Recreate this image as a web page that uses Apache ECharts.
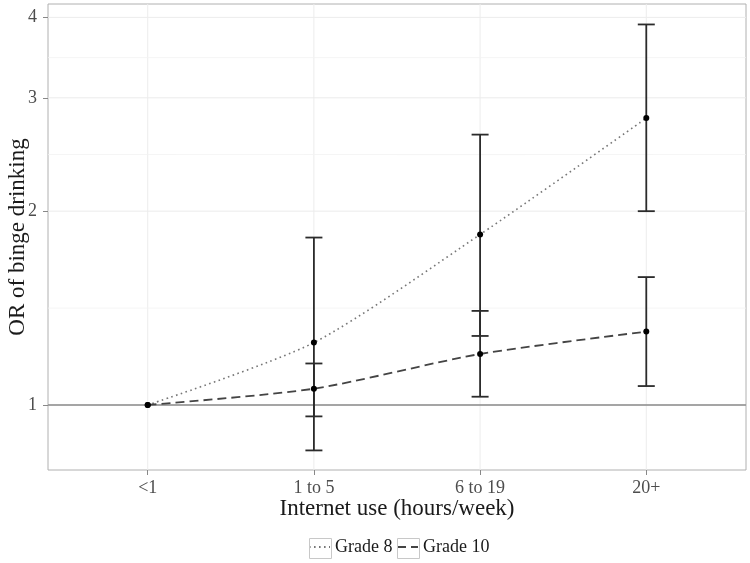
<!DOCTYPE html>
<html>
<head>
<meta charset="utf-8">
<script src="https://cdn.jsdelivr.net/npm/echarts@6/dist/echarts.min.js"></script>
<style>html,body{margin:0;padding:0;background:#fff;}#chart{width:750px;height:563px;}</style>
</head>
<body>
<div id="chart"></div>
<script>
// ---- data ----
var categories = ['<1', '1 to 5', '6 to 19', '20+'];
var grade8OR = [1, 1.25, 1.84, 2.79];
var grade8Lower = [null, 0.85, 1.28, 2.00];
var grade8Upper = [null, 1.82, 2.63, 3.90];
var grade10OR = [1, 1.06, 1.20, 1.30];
var grade10Lower = [null, 0.96, 1.03, 1.07];
var grade10Upper = [null, 1.16, 1.40, 1.58];
var yBreaks = [1, 2, 3, 4];
var yMinorBreaks = [1.414, 2.449, 3.464];
var referenceOR = [1];

var FONT = 'Liberation Serif';
var chart = echarts.init(document.getElementById('chart'), null, {renderer: 'canvas'});

var catPos = categories.map(function (c, i) { return i + 1; });

function lineData(vals) { return vals.map(function (v, i) { return [catPos[i], v]; }); }
function barData(vals, lo, hi) {
  return vals.map(function (v, i) { return [catPos[i], v, lo[i], hi[i]]; });
}

var vGrid = catPos.map(function (x) { return [x, 1, 0]; });
var hGrid = yBreaks.map(function (y) { return [1, y, 0]; })
  .concat(yMinorBreaks.map(function (y) { return [1, y, 1]; }));

function errRender(params, api) {
  var x = api.value(0), y = api.value(1), lo = api.value(2), hi = api.value(3);
  var p = api.coord([x, y]);
  var children = [];
  if (lo != null && hi != null && !isNaN(lo) && !isNaN(hi)) {
    var a = api.coord([x, lo]), b = api.coord([x, hi]);
    var hw = 8.5;
    var st = {stroke: '#2b2b2b', lineWidth: 1.8};
    children.push({type: 'line', shape: {x1: p[0], y1: a[1], x2: p[0], y2: b[1]}, style: st});
    children.push({type: 'line', shape: {x1: p[0] - hw, y1: a[1], x2: p[0] + hw, y2: a[1]}, style: st});
    children.push({type: 'line', shape: {x1: p[0] - hw, y1: b[1], x2: p[0] + hw, y2: b[1]}, style: st});
  }
  children.push({type: 'circle', shape: {cx: p[0], cy: p[1], r: 3}, style: {fill: '#000'}});
  return {type: 'group', children: children};
}

var legendCommon = {
  top: 538, padding: 0, itemWidth: 21, itemHeight: 17, itemGap: 4,
  itemStyle: {color: 'rgba(0,0,0,0)', borderWidth: 0},
  textStyle: {fontFamily: FONT, fontSize: 18, color: '#1a1a1a'}
};

var option = {
  backgroundColor: '#fff',
  animation: false,
  grid: {left: 48, right: 4, top: 4, bottom: 93, outerBoundsMode: 'none', containLabel: false,
         show: true, borderColor: '#b0b0b0', borderWidth: 1, backgroundColor: 'transparent'},
  xAxis: {
    type: 'value', min: 0.4, max: 4.6,
    name: 'Internet use (hours/week)', nameLocation: 'middle', nameGap: 27, nameMoveOverlap: false,
    nameTextStyle: {fontFamily: FONT, fontSize: 23, color: '#1a1a1a'},
    axisLine: {show: false},
    axisTick: {show: true, length: 5, lineStyle: {color: '#888'}, customValues: catPos},
    axisLabel: {
      customValues: catPos, margin: 9,
      fontFamily: FONT, fontSize: 18, color: '#4d4d4d',
      formatter: function (v) { return categories[Math.round(v) - 1] || ''; }
    },
    splitLine: {show: false}
  },
  yAxis: {
    type: 'log', logBase: 10, min: 0.7925, max: 4.196,
    name: 'OR of binge drinking', nameLocation: 'middle', nameGap: 19, nameMoveOverlap: false,
    nameTextStyle: {fontFamily: FONT, fontSize: 23, color: '#1a1a1a'},
    axisLine: {show: false},
    axisTick: {show: true, length: 5, lineStyle: {color: '#888'}, customValues: yBreaks},
    axisLabel: {customValues: yBreaks, margin: 11, fontFamily: FONT, fontSize: 18, color: '#4d4d4d'},
    splitLine: {show: false}, minorSplitLine: {show: false}
  },
  legend: [
    Object.assign({data: ['Grade 8'], left: 308}, legendCommon),
    Object.assign({data: ['Grade 10'], left: 396}, legendCommon)
  ],
  series: [
    {
      name: 'vgrid', type: 'custom', z: 0, silent: true, data: vGrid,
      renderItem: function (params, api) {
        var cs = params.coordSys;
        var x = api.coord([api.value(0), 1])[0];
        return {type: 'line', shape: {x1: x, y1: cs.y, x2: x, y2: cs.y + cs.height}, style: {stroke: '#ececec', lineWidth: 1}};
      }
    },
    {
      name: 'hgrid', type: 'custom', z: 0, silent: true, data: hGrid,
      renderItem: function (params, api) {
        var cs = params.coordSys;
        var y = api.coord([1, api.value(1)])[1];
        var minor = api.value(2) === 1;
        return {type: 'line', shape: {x1: cs.x, y1: y, x2: cs.x + cs.width, y2: y},
          style: {stroke: minor ? '#f3f3f3' : '#ececec', lineWidth: minor ? 0.8 : 1}};
      }
    },
    {
      name: 'ref', type: 'custom', z: 1, silent: true,
      data: referenceOR.map(function (v) { return [1, v]; }),
      renderItem: function (params, api) {
        var cs = params.coordSys;
        var y = api.coord([1, api.value(1)])[1];
        return {type: 'line', shape: {x1: cs.x, y1: y, x2: cs.x + cs.width, y2: y}, style: {stroke: '#8a8a8a', lineWidth: 1.4}};
      }
    },
    {
      name: 'Grade 8', type: 'line', z: 2, data: lineData(grade8OR), smooth: 0.25,
      symbol: 'none', showSymbol: false,
      lineStyle: {color: '#777', width: 1.6, type: [1.6, 3.4]}, itemStyle: {color: '#777'}
    },
    {
      name: 'Grade 10', type: 'line', z: 2, data: lineData(grade10OR), smooth: 0.25,
      symbol: 'none', showSymbol: false,
      lineStyle: {color: '#444', width: 1.8, type: [9, 5]}, itemStyle: {color: '#444'}
    },
    {
      name: 'g8err', type: 'custom', z: 3, silent: true,
      encode: {x: 0, y: [1, 2, 3]},
      data: barData(grade8OR, grade8Lower, grade8Upper), renderItem: errRender
    },
    {
      name: 'g10err', type: 'custom', z: 3, silent: true,
      encode: {x: 0, y: [1, 2, 3]},
      data: barData(grade10OR, grade10Lower, grade10Upper), renderItem: errRender
    }
  ],
  graphic: [
    {type: 'rect', left: 307, top: 536, shape: {width: 22, height: 20}, style: {fill: 'none', stroke: '#c8c8c8', lineWidth: 1}, z: 100},
    {type: 'rect', left: 395, top: 536, shape: {width: 22, height: 20}, style: {fill: 'none', stroke: '#c8c8c8', lineWidth: 1}, z: 100}
  ]
};
chart.setOption(option);
</script>
</body>
</html>
